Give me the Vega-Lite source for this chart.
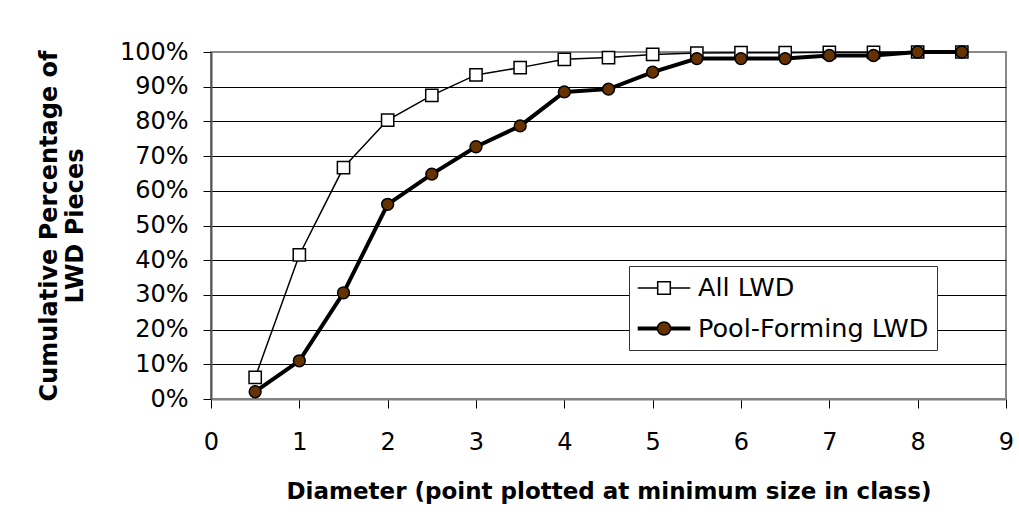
{
  "$schema": "https://vega.github.io/schema/vega-lite/v6.json",
  "width": 795,
  "height": 347,
  "autosize": {"type": "none"},
  "padding": {"left": 211, "top": 52, "right": 13, "bottom": 128},
  "background": "white",
  "config": {
    "font": "DejaVu Sans",
    "view": {"stroke": "#888888", "strokeWidth": 2},
    "axis": {
      "labelFont": "DejaVu Sans",
      "titleFont": "DejaVu Sans",
      "labelColor": "black",
      "titleColor": "black",
      "tickColor": "black",
      "tickWidth": 1,
      "gridOpacity": 1,
      "gridWidth": 1
    },
    "legend": {
      "title": null,
      "orient": "none",
      "legendX": 418,
      "legendY": 214,
      "direction": "vertical",
      "fillColor": "white",
      "strokeColor": "#333333",
      "padding": 8,
      "labelFont": "DejaVu Sans",
      "labelFontSize": 25.5,
      "labelColor": "black",
      "labelLimit": 500,
      "symbolSize": 692,
      "symbolOffset": 13,
      "labelOffset": 20,
      "rowPadding": 12.5,
      "symbolStrokeWidth": 1.5,
      "symbolOpacity": 1
    }
  },
  "data": {
    "values": [
      {"series": "All LWD", "diameter": 0.5, "pct": 0.062},
      {"series": "All LWD", "diameter": 1.0, "pct": 0.415},
      {"series": "All LWD", "diameter": 1.5, "pct": 0.667},
      {"series": "All LWD", "diameter": 2.0, "pct": 0.804},
      {"series": "All LWD", "diameter": 2.5, "pct": 0.875},
      {"series": "All LWD", "diameter": 3.0, "pct": 0.934},
      {"series": "All LWD", "diameter": 3.5, "pct": 0.955},
      {"series": "All LWD", "diameter": 4.0, "pct": 0.979},
      {"series": "All LWD", "diameter": 4.5, "pct": 0.984},
      {"series": "All LWD", "diameter": 5.0, "pct": 0.993},
      {"series": "All LWD", "diameter": 5.5, "pct": 0.997},
      {"series": "All LWD", "diameter": 6.0, "pct": 0.998},
      {"series": "All LWD", "diameter": 6.5, "pct": 0.998},
      {"series": "All LWD", "diameter": 7.0, "pct": 0.999},
      {"series": "All LWD", "diameter": 7.5, "pct": 0.999},
      {"series": "All LWD", "diameter": 8.0, "pct": 1.0},
      {"series": "All LWD", "diameter": 8.5, "pct": 1.0},
      {"series": "Pool-Forming LWD", "diameter": 0.5, "pct": 0.021},
      {"series": "Pool-Forming LWD", "diameter": 1.0, "pct": 0.11},
      {"series": "Pool-Forming LWD", "diameter": 1.5, "pct": 0.306},
      {"series": "Pool-Forming LWD", "diameter": 2.0, "pct": 0.561},
      {"series": "Pool-Forming LWD", "diameter": 2.5, "pct": 0.648},
      {"series": "Pool-Forming LWD", "diameter": 3.0, "pct": 0.727},
      {"series": "Pool-Forming LWD", "diameter": 3.5, "pct": 0.787},
      {"series": "Pool-Forming LWD", "diameter": 4.0, "pct": 0.885},
      {"series": "Pool-Forming LWD", "diameter": 4.5, "pct": 0.893},
      {"series": "Pool-Forming LWD", "diameter": 5.0, "pct": 0.942},
      {"series": "Pool-Forming LWD", "diameter": 5.5, "pct": 0.981},
      {"series": "Pool-Forming LWD", "diameter": 6.0, "pct": 0.981},
      {"series": "Pool-Forming LWD", "diameter": 6.5, "pct": 0.981},
      {"series": "Pool-Forming LWD", "diameter": 7.0, "pct": 0.99},
      {"series": "Pool-Forming LWD", "diameter": 7.5, "pct": 0.99},
      {"series": "Pool-Forming LWD", "diameter": 8.0, "pct": 1.0},
      {"series": "Pool-Forming LWD", "diameter": 8.5, "pct": 1.0}
    ]
  },
  "encoding": {
    "x": {
      "field": "diameter",
      "type": "quantitative",
      "scale": {"domain": [0, 9], "nice": false, "zero": false},
      "axis": {
        "title": "Diameter (point plotted at minimum size in class)",
        "values": [0, 1, 2, 3, 4, 5, 6, 7, 8, 9],
        "format": "d",
        "grid": false,
        "domainColor": "#808080",
        "domainWidth": 2,
        "tickSize": 9,
        "labelPadding": 22,
        "labelFontSize": 24,
        "labelFlush": false,
        "labelOverlap": false,
        "titleFontSize": 23,
        "titleFontWeight": "bold",
        "titlePadding": 26
      }
    },
    "y": {
      "field": "pct",
      "type": "quantitative",
      "scale": {"domain": [0, 1], "nice": false},
      "axis": {
        "title": ["Cumulative Percentage of", "LWD Pieces"],
        "values": [0, 0.1, 0.2, 0.3, 0.4, 0.5, 0.6, 0.7, 0.8, 0.9, 1],
        "format": ".0%",
        "grid": true,
        "gridColor": {"condition": {"test": "datum.value === 1 || datum.value === 0", "value": "#888888"}, "value": "black"},
        "domainColor": "#555555",
        "domainWidth": 2,
        "tickSize": 8,
        "labelPadding": 15,
        "labelFontSize": 24,
        "labelFlush": false,
        "labelOverlap": false,
        "titleFontSize": 24,
        "titleFontWeight": "bold",
        "titlePadding": 32,
        "titleLineHeight": 26
      }
    }
  },
  "layer": [
    {
      "transform": [{"filter": "datum.series === 'All LWD'"}],
      "mark": {"type": "line", "color": "black", "strokeWidth": 1.5}
    },
    {
      "transform": [{"filter": "datum.series === 'All LWD'"}],
      "mark": {"type": "point", "shape": "square", "filled": true, "size": 150, "stroke": "black", "strokeWidth": 1.5, "opacity": 1},
      "encoding": {
        "fill": {
          "field": "series",
          "type": "nominal",
          "scale": {"domain": ["All LWD", "Pool-Forming LWD"], "range": ["white", "#663300"]},
          "legend": {"title": null}
        }
      }
    },
    {
      "transform": [{"filter": "datum.series === 'Pool-Forming LWD'"}],
      "mark": {"type": "line", "color": "black", "strokeWidth": 4}
    },
    {
      "transform": [{"filter": "datum.series === 'Pool-Forming LWD'"}],
      "mark": {"type": "point", "shape": "circle", "filled": true, "size": 140, "stroke": "black", "strokeWidth": 1.5, "opacity": 1},
      "encoding": {
        "fill": {
          "field": "series",
          "type": "nominal",
          "scale": {"domain": ["All LWD", "Pool-Forming LWD"], "range": ["white", "#663300"]},
          "legend": {"title": null}
        }
      }
    },
    {
      "mark": {"type": "point", "filled": true, "opacity": 0, "strokeWidth": 1.5},
      "encoding": {
        "fill": {
          "field": "series",
          "type": "nominal",
          "scale": {"domain": ["All LWD", "Pool-Forming LWD"], "range": ["white", "#663300"]},
          "legend": {"title": null}
        },
        "stroke": {
          "field": "series",
          "type": "nominal",
          "scale": {"domain": ["All LWD", "Pool-Forming LWD"], "range": ["black", "black"]},
          "legend": {"title": null}
        },
        "shape": {
          "field": "series",
          "type": "nominal",
          "scale": {
            "domain": ["All LWD", "Pool-Forming LWD"],
            "range": [
              "M-2,0H-0.48M0.48,0H2M-0.48,-0.48H0.48V0.48H-0.48Z",
              "M-2,-0.1H-0.5M-2,0H-0.5M-2,0.1H-0.5M0.5,-0.1H2M0.5,0H2M0.5,0.1H2M0.5,0A0.5,0.5 0 1 1 -0.5,0A0.5,0.5 0 1 1 0.5,0Z"
            ]
          },
          "legend": {"title": null}
        }
      }
    }
  ]
}
